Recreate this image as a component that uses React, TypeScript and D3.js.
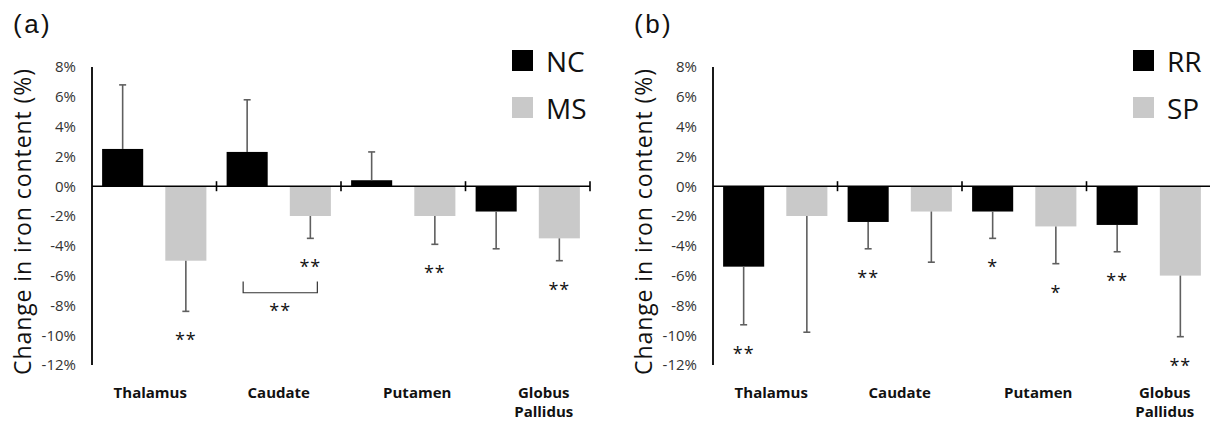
import React, { useEffect, useRef } from "react";
import * as d3 from "d3";

const regions = ["Thalamus", "Caudate", "Putamen", "Globus Pallidus"];
const yTicks = [8, 6, 4, 2, 0, -2, -4, -6, -8, -10, -12];

// panel (a): normal controls vs MS patients
const groupsA = ["NC", "MS"];
const ncMean = [2.5, 2.3, 0.4, -1.7];
const ncErr = [4.3, 3.5, 1.9, 2.5];
const ncSig = ["", "", "", ""];
const msMean = [-5.0, -2.0, -2.0, -3.5];
const msErr = [3.4, 1.5, 1.9, 1.5];
const msSig = ["**", "**", "**", "**"];

// panel (b): relapsing-remitting vs secondary progressive
const groupsB = ["RR", "SP"];
const rrMean = [-5.4, -2.4, -1.7, -2.6];
const rrErr = [3.9, 1.8, 1.8, 1.8];
const rrSig = ["**", "**", "*", "**"];
const spMean = [-2.0, -1.7, -2.7, -6.0];
const spErr = [7.8, 3.4, 2.5, 4.1];
const spSig = ["", "", "*", "**"];

const colors = ["#000000", "#c9c9c9"];
const errColor = "#5f5f5f";
const font = "'Open Sans', 'DejaVu Sans', sans-serif";
// category labels in the original sit a little off their band centres
const labelNudge = [-4, 0, 14, 16];

function Panel({ tag, left, groups, means, errs, sigs, bracket }) {
  const ref = useRef(null);

  useEffect(() => {
    const g = d3.select(ref.current);
    g.selectAll("*").remove();

    const axisX = left;
    const y = d3.scaleLinear().domain([-12, 8]).range([365, 67]);
    const x0 = d3.scaleBand().domain(regions).range([axisX, axisX + 498]);
    const x1 = d3
      .scaleBand()
      .domain(groups)
      .range([0, x0.bandwidth()])
      .paddingInner(0.35)
      .paddingOuter(0.16);

    const rows = [];
    groups.forEach((grp, gi) => {
      regions.forEach((r, ri) => {
        rows.push({ grp, gi, r, ri, v: means[gi][ri], e: errs[gi][ri], s: sigs[gi][ri] });
      });
    });
    const cx = (d) => x0(d.r) + x1(d.grp) + x1.bandwidth() / 2;
    const errEnd = (d) => (d.v >= 0 ? d.v + d.e : d.v - d.e);

    // panel tag
    g.append("text")
      .attr("x", left - 79)
      .attr("y", 33)
      .text(tag)
      .style("font-family", "'Liberation Sans', Arial, sans-serif")
      .style("font-size", "26px")
      .style("letter-spacing", "2.5px")
      .attr("fill", "#111");

    // y label
    g.append("text")
      .attr("transform", `translate(${axisX - 70}, 222) rotate(-90)`)
      .attr("text-anchor", "middle")
      .attr("dominant-baseline", "central")
      .attr("textLength", 306)
      .attr("lengthAdjust", "spacing")
      .text("Change in iron content (%)")
      .style("font-family", font)
      .style("font-size", "23px")
      .attr("fill", "#111");

    // y tick labels
    g.selectAll(".ytick")
      .data(yTicks)
      .join("text")
      .attr("class", "ytick")
      .attr("x", axisX - 16)
      .attr("y", (d) => y(d))
      .attr("dy", "0.36em")
      .attr("text-anchor", "end")
      .text((d) => `${d}%`)
      .style("font-family", font)
      .style("font-size", "15px")
      .attr("fill", "#333");

    // bars
    g.selectAll(".bar")
      .data(rows)
      .join("rect")
      .attr("class", "bar")
      .attr("x", (d) => x0(d.r) + x1(d.grp))
      .attr("y", (d) => Math.min(y(d.v), y(0)))
      .attr("width", x1.bandwidth())
      .attr("height", (d) => Math.abs(y(d.v) - y(0)))
      .attr("fill", (d) => colors[d.gi]);

    // error bars (one-sided, away from zero)
    g.selectAll(".err")
      .data(rows)
      .join("line")
      .attr("class", "err")
      .attr("x1", cx)
      .attr("x2", cx)
      .attr("y1", (d) => y(d.v))
      .attr("y2", (d) => y(errEnd(d)))
      .attr("stroke", errColor)
      .attr("stroke-width", 1.6);
    g.selectAll(".cap")
      .data(rows)
      .join("line")
      .attr("class", "cap")
      .attr("x1", (d) => cx(d) - 3.5)
      .attr("x2", (d) => cx(d) + 3.5)
      .attr("y1", (d) => y(errEnd(d)))
      .attr("y2", (d) => y(errEnd(d)))
      .attr("stroke", errColor)
      .attr("stroke-width", 1.6);

    // significance stars
    g.selectAll(".sig")
      .data(rows.filter((d) => d.s))
      .join("text")
      .attr("class", "sig")
      .attr("x", cx)
      .attr("y", (d) => y(errEnd(d)) + 35)
      .attr("text-anchor", "middle")
      .text((d) => d.s)
      .style("font-family", font)
      .style("font-size", "18px")
      .style("letter-spacing", "1px")
      .attr("fill", "#111");

    // between-group bracket
    if (bracket) {
      const a = x0(bracket.region) + x1(groups[0]) + x1.bandwidth() / 2 - 4;
      const b = x0(bracket.region) + x1(groups[1]) + x1.bandwidth() / 2 + 7;
      const top = y(-6.4);
      const bot = y(-7.15);
      g.append("path")
        .attr("d", `M${a},${top}V${bot}H${b}V${top}`)
        .attr("fill", "none")
        .attr("stroke", "#333")
        .attr("stroke-width", 1.2);
      g.append("text")
        .attr("x", (a + b) / 2)
        .attr("y", bot + 24)
        .attr("text-anchor", "middle")
        .text(bracket.label)
        .style("font-family", font)
        .style("font-size", "18px")
        .style("letter-spacing", "1px")
        .attr("fill", "#111");
    }

    // axes
    g.append("line")
      .attr("x1", axisX)
      .attr("x2", axisX)
      .attr("y1", y(8))
      .attr("y2", y(-12))
      .attr("stroke", "#000")
      .attr("stroke-width", 1.8);
    const [xs, xe] = x0.range();
    g.append("line")
      .attr("x1", xs)
      .attr("x2", xe)
      .attr("y1", y(0))
      .attr("y2", y(0))
      .attr("stroke", "#000")
      .attr("stroke-width", 1.6);
    const tickXs = regions.slice(1).map((r) => x0(r)).concat([xe]);
    g.selectAll(".xtick")
      .data(tickXs)
      .join("line")
      .attr("class", "xtick")
      .attr("x1", (d) => d)
      .attr("x2", (d) => d)
      .attr("y1", y(0) - 5)
      .attr("y2", y(0) + 5)
      .attr("stroke", "#000")
      .attr("stroke-width", 1.6);

    // category labels
    const lab = g
      .selectAll(".xlab")
      .data(regions)
      .join("text")
      .attr("class", "xlab")
      .attr("x", (d, i) => x0(d) + x0.bandwidth() / 2 + labelNudge[i])
      .attr("y", 398)
      .attr("text-anchor", "middle")
      .style("font-family", font)
      .style("font-size", "15px")
      .style("font-weight", "bold")
      .attr("fill", "#111");
    lab
      .selectAll("tspan")
      .data((d) => d.split(" "))
      .join("tspan")
      .attr("x", function () {
        return d3.select(this.parentNode).attr("x");
      })
      .attr("dy", (d, i) => (i === 0 ? 0 : 19))
      .text((d) => d);

    // legend
    const lx = xe - 78;
    groups.forEach((grp, i) => {
      g.append("rect")
        .attr("x", lx)
        .attr("y", 50 + i * 47)
        .attr("width", 21)
        .attr("height", 21)
        .attr("fill", colors[i]);
      g.append("text")
        .attr("x", lx + 34)
        .attr("y", 72 + i * 47)
        .text(grp)
        .style("font-family", font)
        .style("font-size", "28px")
        .attr("fill", "#111");
    });
  }, [tag, left, groups, means, errs, sigs, bracket]);

  return <g ref={ref}></g>;
}

export default function App() {
  return (
    <div style={{ position: "absolute", left: 0, top: 0 }}>
      <style>{`body{margin:0}`}</style>
      <svg width={1210} height={422} style={{ display: "block", background: "#fff" }}>
        <Panel
          tag="(a)"
          left={92}
          groups={groupsA}
          means={[ncMean, msMean]}
          errs={[ncErr, msErr]}
          sigs={[ncSig, msSig]}
          bracket={{ region: "Caudate", label: "**" }}
        />
        <Panel
          tag="(b)"
          left={713}
          groups={groupsB}
          means={[rrMean, spMean]}
          errs={[rrErr, spErr]}
          sigs={[rrSig, spSig]}
          bracket={null}
        />
      </svg>
    </div>
  );
}
